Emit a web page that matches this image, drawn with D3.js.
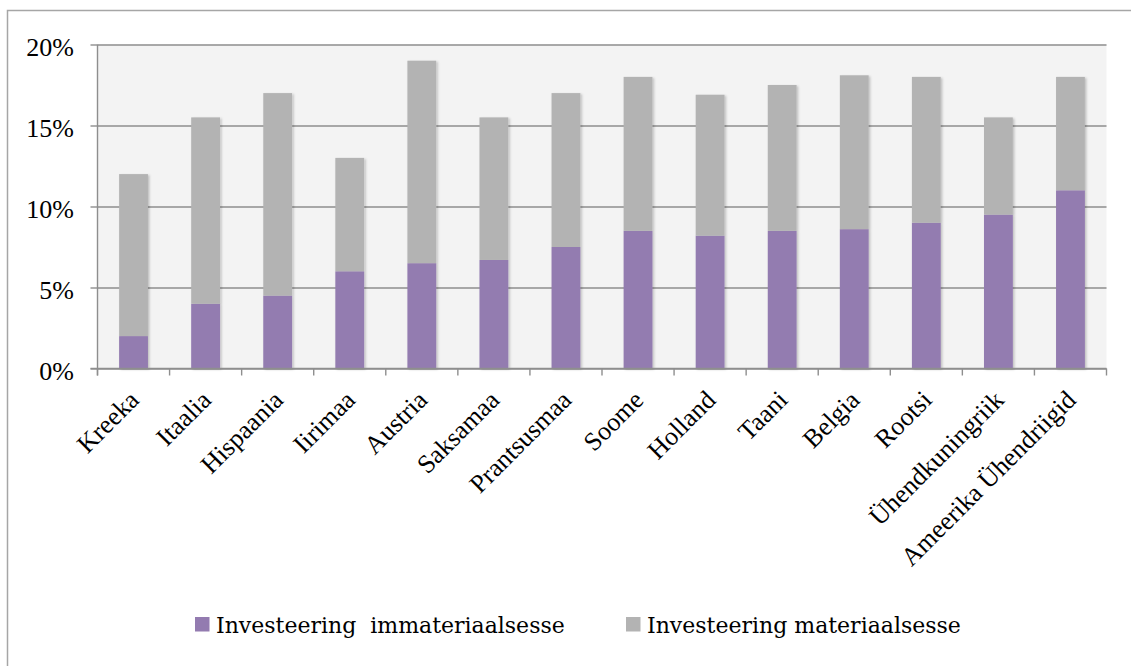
<!DOCTYPE html>
<html>
<head>
<meta charset="utf-8">
<script src="https://cdn.jsdelivr.net/npm/d3@7"></script>
<style>
  html, body { margin: 0; padding: 0; background: #ffffff; }
  svg { display: block; }
</style>
</head>
<body>
<svg id="chart" width="1131" height="666"></svg>
<script>
// Investment shares by country (% of value added)
const countries = ["Kreeka", "Itaalia", "Hispaania", "Iirimaa", "Austria", "Saksamaa", "Prantsusmaa",
  "Soome", "Holland", "Taani", "Belgia", "Rootsi", "Ühendkuningriik", "Ameerika Ühendriigid"];
const intangible = [2, 4, 4.5, 6, 6.5, 6.7, 7.5, 8.5, 8.2, 8.5, 8.6, 9, 9.5, 11];
const total = [12, 15.5, 17, 13, 19, 15.5, 17, 18, 16.9, 17.5, 18.1, 18, 15.5, 18];
const tangible = total.map((t, i) => +(t - intangible[i]).toFixed(2));
const seriesNames = ["Investeering  immateriaalsesse", "Investeering materiaalsesse"];
const seriesColors = ["#937bb0", "#b3b3b3"];
const yTicks = [0, 5, 10, 15, 20];

const svg = d3.select("#chart");
const W = 1131, H = 666;
const plot = { left: 97.5, right: 1106.5, top: 44.5, bottom: 368.5 };
const serif = "'Liberation Serif', 'Times New Roman', serif";

// outer chart frame
svg.append("rect")
  .attr("x", 7.5).attr("y", 10.5)
  .attr("width", W + 20).attr("height", H + 20)
  .attr("fill", "#ffffff").attr("stroke", "#a6a6a6").attr("stroke-width", 1.5);

const defs = svg.append("defs");
const shadow = defs.append("filter").attr("id", "barShadow")
  .attr("x", "-20%").attr("y", "-5%").attr("width", "150%").attr("height", "115%");
shadow.append("feDropShadow").attr("dx", 1.5).attr("dy", 1).attr("stdDeviation", 1.2)
  .attr("flood-color", "#000").attr("flood-opacity", 0.22);

const x = d3.scaleBand().domain(countries)
  .range([plot.left, plot.right]).paddingInner(0.6).paddingOuter(0.3);
const y = d3.scaleLinear().domain([0, 20]).range([plot.bottom, plot.top]);

// plot background
svg.append("rect")
  .attr("x", plot.left).attr("y", plot.top)
  .attr("width", plot.right - plot.left).attr("height", plot.bottom - plot.top)
  .attr("fill", "#f3f3f3");

// horizontal gridlines with y axis
const yAxis = d3.axisLeft(y).tickValues(yTicks).tickFormat(d => d + "%")
  .tickSize(-(plot.right - plot.left)).tickPadding(23.5);
const gy = svg.append("g").attr("transform", `translate(${plot.left},0)`).call(yAxis);
gy.select(".domain").remove();
gy.selectAll(".tick line").attr("stroke", "#8e8e8e").attr("stroke-width", 1.4);
gy.selectAll(".tick").append("line")
  .attr("x1", -7).attr("x2", 0).attr("stroke", "#8e8e8e").attr("stroke-width", 1.4);
gy.selectAll(".tick text")
  .attr("font-family", serif)
  .attr("font-size", 26).attr("fill", "#000").attr("dy", "0.42em");

// stacked bars
const stack = d3.stack().keys([0, 1]).value((d, k) => d[k]);
const rows = countries.map((c, i) => ({ country: c, 0: intangible[i], 1: tangible[i] }));
const layers = stack(rows);

const barsG = svg.append("g").attr("filter", "url(#barShadow)");
layers.forEach((layer, li) => {
  barsG.selectAll(null).data(layer).join("rect")
    .attr("x", d => x(d.data.country))
    .attr("width", x.bandwidth())
    .attr("y", d => y(d[1]))
    .attr("height", d => y(d[0]) - y(d[1]))
    .attr("fill", seriesColors[li]);
});

// left axis line
svg.append("line")
  .attr("x1", plot.left).attr("x2", plot.left)
  .attr("y1", plot.top).attr("y2", plot.bottom + 7)
  .attr("stroke", "#8e8e8e").attr("stroke-width", 1.4);

// bottom axis line and category boundary ticks
svg.append("line")
  .attr("x1", plot.left - 7).attr("x2", plot.right)
  .attr("y1", plot.bottom).attr("y2", plot.bottom)
  .attr("stroke", "#8e8e8e").attr("stroke-width", 1.4);
const step = x.step();
svg.append("g").selectAll("line").data(d3.range(countries.length + 1)).join("line")
  .attr("x1", i => plot.left + i * step).attr("x2", i => plot.left + i * step)
  .attr("y1", plot.bottom).attr("y2", plot.bottom + 7)
  .attr("stroke", "#8e8e8e").attr("stroke-width", 1.4);

// rotated category labels
svg.append("g").selectAll("text").data(countries).join("text")
  .attr("transform", d => `translate(${x(d) + x.bandwidth() / 2 + 7},${plot.bottom + 33}) rotate(-45)`)
  .attr("text-anchor", "end")
  .attr("font-family", serif)
  .attr("font-size", 26).attr("fill", "#000")
  .text(d => d);

// legend
const legendItems = [
  { name: seriesNames[0], color: seriesColors[0], sx: 195 },
  { name: seriesNames[1], color: seriesColors[1], sx: 626 }
];
const lg = svg.append("g");
legendItems.forEach(it => {
  lg.append("rect").attr("x", it.sx).attr("y", 617).attr("width", 14.5).attr("height", 14.5)
    .attr("fill", it.color);
  lg.append("text").attr("x", it.sx + 21).attr("y", 633)
    .attr("font-family", "'DejaVu Serif', serif").attr("font-size", 22).attr("fill", "#000")
    .attr("xml:space", "preserve").style("white-space", "pre")
    .text(it.name);
});
</script>
</body>
</html>
